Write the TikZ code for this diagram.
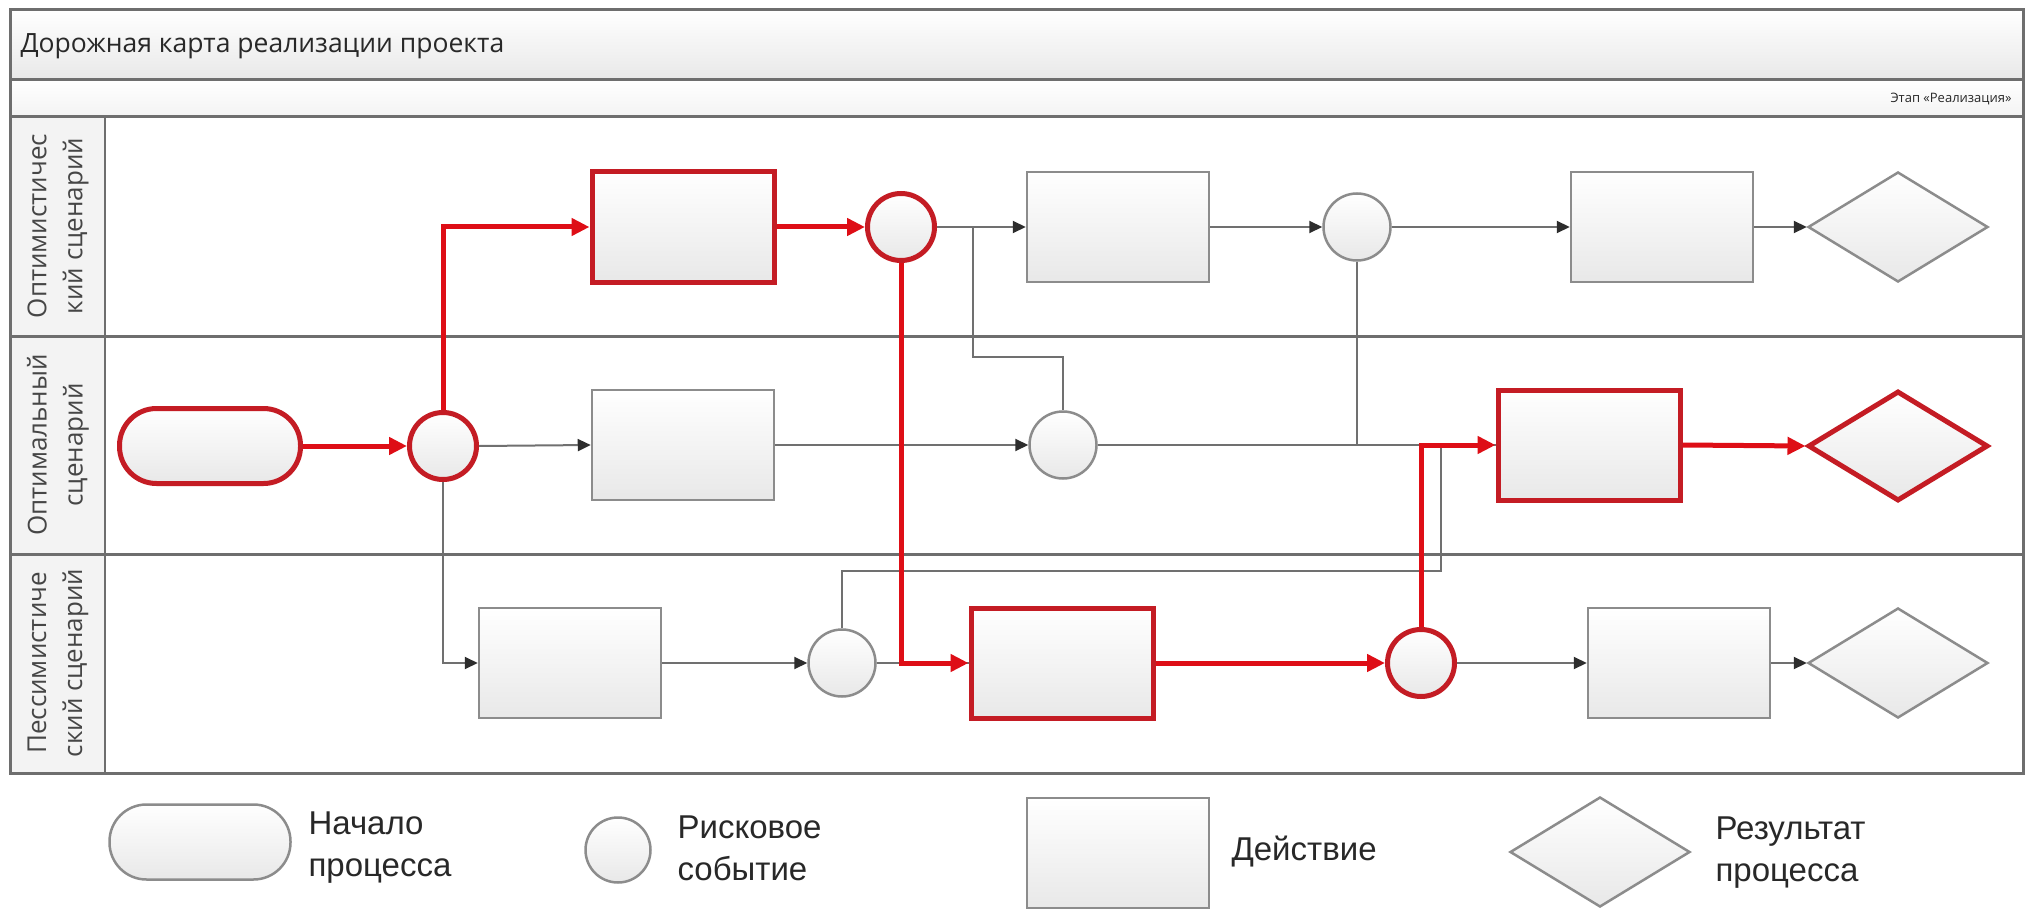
\documentclass[tikz,border=0pt]{standalone}
\usepackage{fontspec}
\setmainfont{Liberation Sans}
\newfontfamily\osans{Open Sans}
\usetikzlibrary{shapes.geometric,arrows.meta,calc}
\definecolor{rd}{RGB}{196,28,36}
\definecolor{rda}{RGB}{222,14,22}
\definecolor{ln}{RGB}{112,112,112}
\definecolor{outl}{RGB}{140,140,140}
\definecolor{frame}{RGB}{110,110,110}
\definecolor{tipc}{RGB}{45,45,45}
\definecolor{shadeg}{RGB}{232,232,232}
\definecolor{lanebg}{RGB}{243,243,243}
\definecolor{txt}{RGB}{40,40,40}
\definecolor{lanetxt}{RGB}{70,70,70}
\tikzset{
  base/.style={inner sep=0pt, draw=outl, line width=2.5pt, top color=white, bottom color=shadeg},
  actbox/.style={base, rectangle, minimum width=182pt, minimum height=110pt},
  riskc/.style={base, circle, minimum size=67pt},
  resd/.style={base, diamond, minimum width=180pt, minimum height=110pt},
  startp/.style={base, rectangle, rounded corners=37pt, minimum width=181pt, minimum height=75pt},
  hot/.style={draw=rd, line width=5pt},
  gl/.style={draw=ln, line width=2pt},
  ga/.style={gl, -{Triangle[length=13pt,width=12pt,color=tipc]}},
  rl/.style={draw=rda, line width=5pt},
  ra/.style={rl, -{Triangle[length=18pt,width=17pt,color=rda]}},
  lanelab/.style={rotate=90, align=center, text=lanetxt, font=\osans\fontsize{26}{36}\selectfont},
  legt/.style={anchor=west, align=left, text=txt, font=\fontsize{33}{42}\selectfont}
}
\begin{document}
\begin{tikzpicture}[x=1pt,y=-1pt]
\useasboundingbox (0,0) rectangle (2028,909);
\fill[white] (0,0) rectangle (2028,909);
% frame
\shade[top color=white, bottom color=shadeg] (10,10) rectangle (2023,80);
\shade[top color=white, bottom color=lanebg] (10,80) rectangle (2023,117);
\fill[lanebg] (10,117) rectangle (105,773);
\draw[frame, line width=3pt] (10,10) rectangle (2023,773);
\draw[frame, line width=3pt] (10,80) -- (2023,80);
\draw[frame, line width=3pt] (10,117) -- (2023,117);
\draw[frame, line width=3pt] (10,336) -- (2023,336);
\draw[frame, line width=3pt] (10,554) -- (2023,554);
\draw[frame, line width=2.5pt] (105,117) -- (105,773);
\node[anchor=west, text=txt, font=\osans\fontsize{26.5}{30}\selectfont] (title) at (17,46) {Дорожная карта реализации проекта};
\node[anchor=east, text=txt, font=\osans\fontsize{13}{15}\selectfont] (stage) at (2015,99) {Этап «Реализация»};
\node[lanelab] (L1) at (58,226) {Оптимистичес\\кий сценарий};
\node[lanelab] (L2) at (58,445) {Оптимальный\\сценарий};
\node[lanelab] (L3) at (58,663) {Пессимистиче\\ский сценарий};

% lane 1
\node[actbox, hot] (A1) at (683,227) {};
\node[riskc, hot] (C1) at (901,227) {};
\node[actbox] (B2) at (1118,227) {};
\node[riskc] (C2) at (1357,227) {};
\node[actbox] (B3) at (1662,227) {};
\node[resd] (D1) at (1898,227) {};
% lane 2
\node[startp, hot] (S) at (210,446) {};
\node[riskc, hot] (C0) at (443,446) {};
\node[actbox] (B4) at (683,445) {};
\node[riskc] (C3) at (1063,445) {};
\node[actbox, hot] (B5) at (1589,445) {};
\node[resd, hot] (D2) at (1898,446) {};
% lane 3
\node[actbox] (B6) at (570,663) {};
\node[riskc] (C4) at (842,663) {};
\node[actbox, hot] (B7) at (1062,663) {};
\node[riskc, hot] (C5) at (1421,663) {};
\node[actbox] (B8) at (1679,663) {};
\node[resd] (D3) at (1898,663) {};

\coordinate (j1) at (973,357);
\coordinate (j2) at (1441,571);

% gray connectors
\draw[ga] (C0.east) -- (B4.west);
\draw[ga] (C0.south) |- (B6.west);
\draw[ga] (B4.east) -- (C3.west);
\draw[ga] (C1.east) -- (B2.west);
\draw[gl] (C1.east -| j1) |- (j1) -| (C3.north);
\draw[ga] (B2.east) -- (C2.west);
\draw[ga] (C2.east) -- (B3.west);
\draw[ga] (B3.east) -- (D1.west);
\draw[gl] (C2.south) -- (C2.south |- C3.east);
\draw[gl] (C3.east) -- (B5.west);
\draw[gl] (C4.north) |- (j2) |- (B5.west);
\draw[ga] (B6.east) -- (C4.west);
\draw[gl] (C4.east) -- (B7.west);
\draw[ga] (C5.east) -- (B8.west);
\draw[ga] (B8.east) -- (D3.west);

% red connectors
\draw[ra] (S.east) -- (C0.west);
\draw[ra] (C0.north) |- (A1.west);
\draw[ra] (A1.east) -- (C1.west);
\draw[ra] (C1.south) |- (B7.west);
\draw[ra] (B7.east) -- (C5.west);
\draw[ra] (C5.north) |- (B5.west);
\draw[ra] (B5.east) -- (D2.west);

% legend
\node[startp] (lS) at (200,842) {};
\node[riskc, minimum size=65pt] (lC) at (618,850) {};
\node[actbox] (lB) at (1118,853) {};
\node[resd] (lD) at (1600,852) {};
\node[legt] (t1) at (305,848) {Начало\\процесса};
\node[legt] (t2) at (674,848) {Рисковое\\событие};
\node[legt] (t3) at (1228,852) {Действие};
\node[legt] (t4) at (1712,853) {Результат\\процесса};
\end{tikzpicture}
\end{document}
